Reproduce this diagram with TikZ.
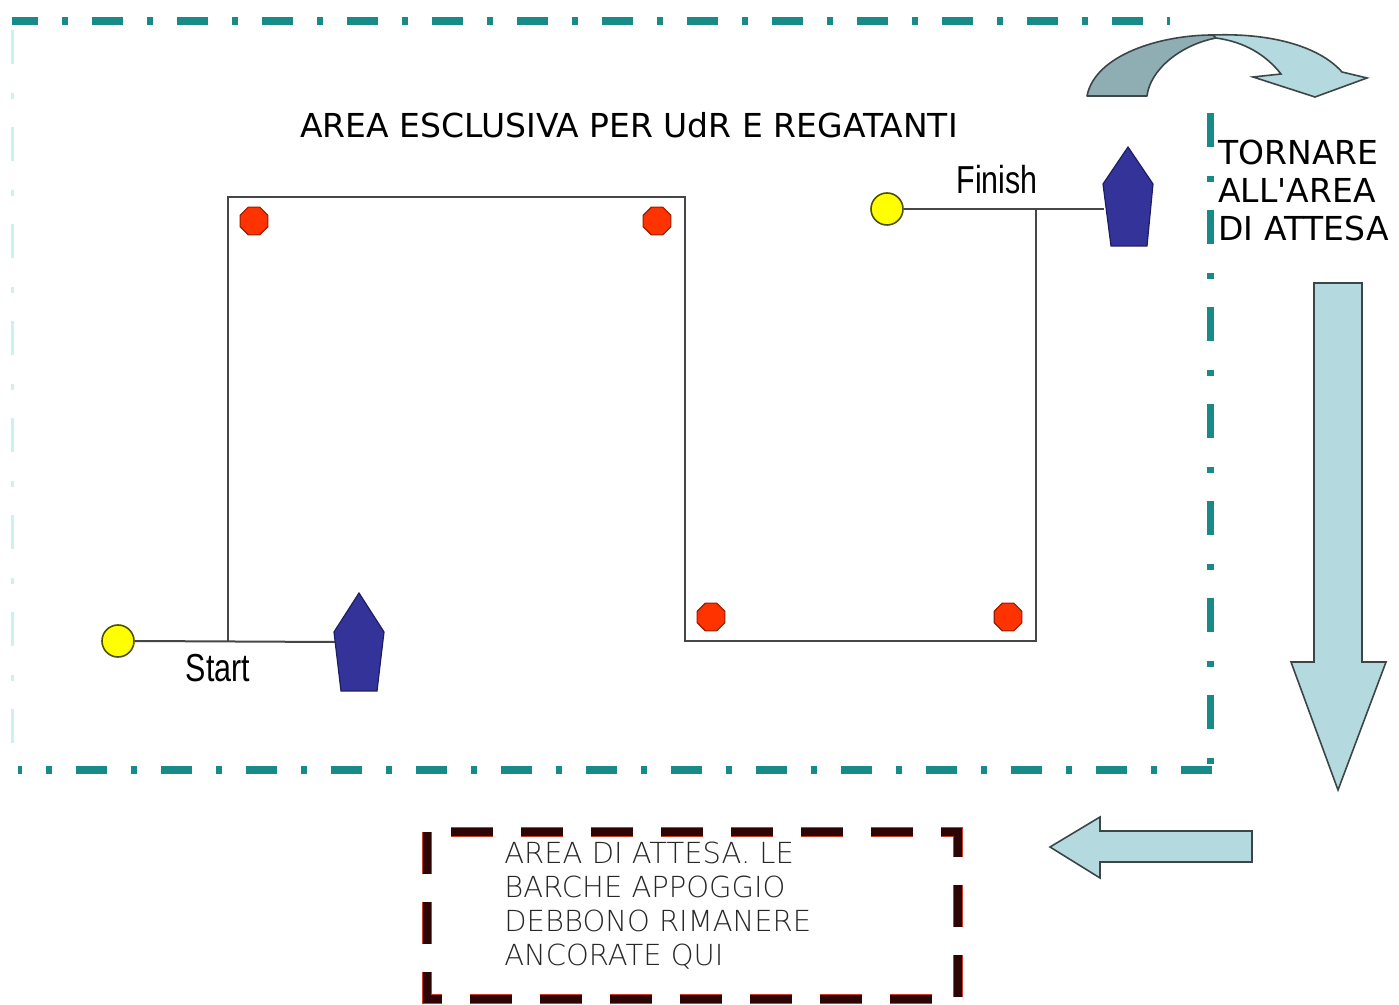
\documentclass[tikz,border=0pt]{standalone}
\usepackage{fontspec}
\setmainfont{DejaVu Sans}
\newfontfamily\plainfont{DejaVu Sans}
\newfontfamily\narrowfont{Liberation Sans}
\newfontfamily\thinfont{DejaVu Sans ExtraLight}
\usetikzlibrary{shapes.geometric}
\definecolor{tealdash}{RGB}{24,138,136}
\definecolor{lightcyan}{RGB}{205,240,240}
\definecolor{coursegray}{RGB}{70,70,70}
\definecolor{buoyline}{RGB}{80,80,0}
\definecolor{buoyfill}{RGB}{255,255,0}
\definecolor{redfill}{RGB}{255,51,0}
\definecolor{redline}{RGB}{150,30,0}
\definecolor{navy}{RGB}{51,51,153}
\definecolor{navyline}{RGB}{30,30,100}
\definecolor{arrowfill}{RGB}{180,218,224}
\definecolor{arrowdark}{RGB}{143,174,180}
\definecolor{arrowline}{RGB}{60,70,70}
\definecolor{boxbrown}{RGB}{45,5,5}
\definecolor{boxred}{RGB}{200,60,40}
\definecolor{textgray}{RGB}{40,40,40}
\begin{document}
\begin{tikzpicture}[x=0.5pt,y=-0.5pt,
  buoy/.style={circle,draw=buoyline,fill=buoyfill,line width=0.8pt,minimum size=16pt,inner sep=0pt},
  markoct/.style={regular polygon,regular polygon sides=8,draw=redline,fill=redfill,line width=0.6pt,minimum size=15pt,inner sep=0pt},
  course/.style={draw=coursegray,line width=1pt},
  boat/.style={fill=navy,draw=navyline,line width=0.6pt},
  bigarrow/.style={fill=arrowfill,draw=arrowline,line width=0.8pt,line join=miter},
  hdash/.style={draw=tealdash,line width=4pt,dash pattern=on 15.5pt off 12pt on 3pt off 12pt},
  vdash/.style={draw=tealdash,line width=3.5pt,dash pattern=on 17pt off 14.5pt on 3pt off 14pt},
  boxdash/.style={line width=4pt,dash pattern=on 21pt off 14pt},
  lbl/.style={inner sep=0pt,font=\plainfont\fontsize{16.5}{19}\selectfont,text=black},
  sflbl/.style={inner sep=0pt,font=\narrowfont\fontsize{19.5}{22}\selectfont,xscale=0.78}
]
\useasboundingbox (0,0) rectangle (1399,1005);
\fill[white] (0,0) rectangle (1399,1005);

% exclusive area frame
\draw[draw=lightcyan,line width=1.5pt,dash pattern=on 17pt off 14.5pt on 3pt off 14pt] (12,30) -- (12,765);
\draw[hdash,dash phase=2.5pt] (12,21) -- (1170,21);
\draw[vdash] (1210,113) -- (1210,772);
\draw[hdash] (1212,770) -- (18,770);

% title
\node[lbl] (title) at (629,125) {AREA ESCLUSIVA PER UdR E REGATANTI};

% course
\coordinate (c1) at (228,642);
\coordinate (c2) at (228,197);
\coordinate (c3) at (685,197);
\coordinate (c4) at (685,641);
\coordinate (c5) at (1036,641);
\coordinate (c6) at (1036,209);
\draw[course] (c1) -- (c2) -- (c3) -- (c4) -- (c5) -- (c6);

% marks
\node[markoct] (m1) at (254,221) {};
\node[markoct] (m2) at (657,221) {};
\node[markoct] (m3) at (711,617) {};
\node[markoct] (m4) at (1008,617) {};

% start
\node[buoy] (sbuoy) at (118,641) {};
\draw[boat] (359,593) -- (384,632) -- (377,691) -- (341,691) -- (334,632) -- cycle;
\coordinate (sboat) at (335,642);
\draw[course] (sbuoy.east) -- (sboat);
\node[sflbl] (start) at (218,668) {Start};

% finish
\node[buoy] (fbuoy) at (887,209) {};
\draw[boat] (1128,147) -- (1153,184) -- (1147,246) -- (1111,246) -- (1103,184) -- cycle;
\coordinate (fboat) at (1104,209);
\draw[course] (fbuoy.east) -- (fboat);
\node[sflbl] (finish) at (997,180) {Finish};

% curved arrow
\draw[fill=arrowdark,draw=arrowline,line width=0.8pt,line join=round]
  (1087,96) .. controls (1095,55) and (1160,35) .. (1213,35)
  -- (1216,38) .. controls (1180,45) and (1150,70) .. (1147,96) -- cycle;
\draw[fill=arrowfill,draw=arrowline,line width=0.8pt,line join=miter]
  (1213,35) .. controls (1268,33) and (1318,45) .. (1342,72)
  -- (1367,78) -- (1315,97) -- (1253,77) -- (1281,74)
  .. controls (1266,55) and (1245,42) .. (1216,38) -- cycle;

\node[lbl,anchor=north west,align=left] (torna) at (1218,140) {TORNARE\\ALL'AREA\\DI ATTESA};

% big arrows
\draw[bigarrow] (1314,283) -- (1362,283) -- (1362,662) -- (1386,662) -- (1338,790) -- (1291,662) -- (1314,662) -- cycle;
\draw[bigarrow] (1252,831) -- (1252,862) -- (1100,862) -- (1100,878) -- (1050,847) -- (1100,817) -- (1100,831) -- cycle;

% waiting area
\draw[boxdash,draw=boxred,line width=4.6pt] (427,832) rectangle (958,999);
\draw[boxdash,draw=boxbrown] (427,832) rectangle (958,999);
\node[inner sep=0pt,anchor=north west,align=left,text=textgray,font=\thinfont\fontsize{14.5}{17}\selectfont] (wait) at (504,842)
  {AREA DI ATTESA. LE\\BARCHE APPOGGIO\\DEBBONO RIMANERE\\ANCORATE QUI};
\end{tikzpicture}
\end{document}
